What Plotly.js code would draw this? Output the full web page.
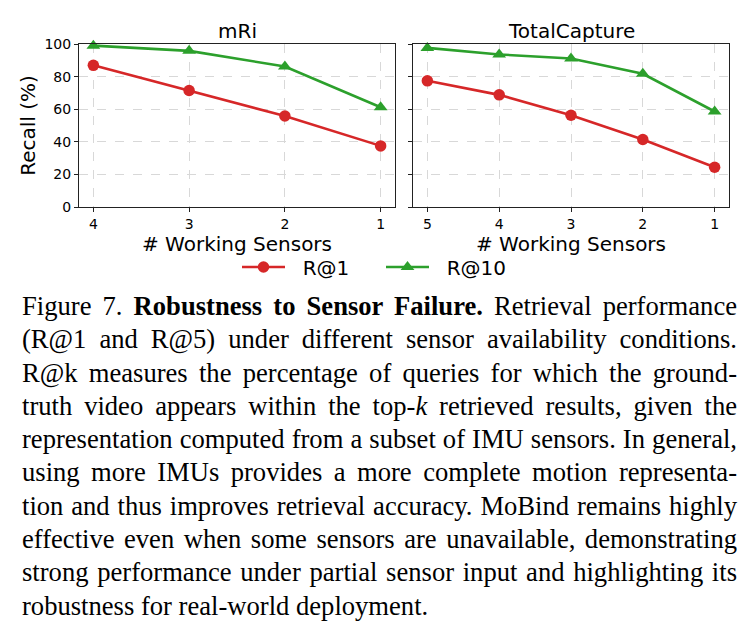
<!DOCTYPE html>
<html>
<head>
<meta charset="utf-8">
<script src="https://cdn.plot.ly/plotly-3.0.1.min.js"></script>
<style>
  html, body { margin: 0; padding: 0; background: #fff; }
  body { width: 749px; height: 637px; position: relative; overflow: hidden; }
  #chart { position: absolute; left: 0; top: 0; width: 749px; height: 290px; }
  #caption { position: absolute; left: 22px; top: 290px; width: 715px;
             font-family: "Liberation Serif", "Times New Roman", serif; font-size: 26.6px;
             color: #000; }
  .cl { height: 33.3px; line-height: 33.3px; white-space: nowrap; }
  .cl span { display: inline-block; transform-origin: 0 50%; }
</style>
</head>
<body>
<div id="chart"></div>
<div id="caption"></div>
<script>
// ---- data ----
const mriSensors = ["4", "3", "2", "1"];
const mriR1 = [86.9, 71.5, 55.8, 37.5];
const mriR10 = [99.0, 95.8, 86.2, 61.2];

const tcSensors = ["5", "4", "3", "2", "1"];
const tcR1 = [77.4, 68.8, 56.3, 41.4, 24.4];
const tcR10 = [97.6, 93.6, 91.1, 81.7, 58.6];

const yTicks = [0, 20, 40, 60, 80, 100];
const subplotTitles = ["mRi", "TotalCapture"];
const xTitle = "# Working Sensors";
const yTitle = "Recall (%)";
const seriesNames = ["R@1", "R@10"];

const captionLines = [
  'Figure 7. <b>Robustness to Sensor Failure.</b> Retrieval performance',
  '(R@1 and R@5) under different sensor availability conditions.',
  'R@k measures the percentage of queries for which the ground-',
  'truth video appears within the top-<i>k</i> retrieved results, given the',
  'representation computed from a subset of IMU sensors. In general,',
  'using more IMUs provides a more complete motion representa-',
  'tion and thus improves retrieval accuracy. MoBind remains highly',
  'effective even when some sensors are unavailable, demonstrating',
  'strong performance under partial sensor input and highlighting its',
  'robustness for real-world deployment.'
];

// ---- styles ----
const RED = "#d62728", GREEN = "#2ca02c";
const FONT = "DejaVu Sans, sans-serif";
const PAD = "\u00a0\u00a0";

function mk(x, y, name, color, symbol, xa, ya, show) {
  return {
    x: x, y: y, name: PAD + name, type: "scatter", mode: "lines+markers",
    xaxis: xa, yaxis: ya, showlegend: show,
    line: { color: color, width: 2.6 },
    marker: { color: color, symbol: symbol, size: symbol === "circle" ? 11.5 : 12 },
    cliponaxis: false
  };
}

const traces = [
  mk(mriSensors, mriR1, seriesNames[0], RED, "circle", "x", "y", true),
  mk(mriSensors, mriR10, seriesNames[1], GREEN, "triangle-up", "x", "y", true),
  mk(tcSensors, tcR1, seriesNames[0], RED, "circle", "x2", "y2", false),
  mk(tcSensors, tcR10, seriesNames[1], GREEN, "triangle-up", "x2", "y2", false)
];

const axisCommon = {
  showline: true, mirror: true, linecolor: "#222", linewidth: 1,
  ticks: "outside", ticklen: 4, tickcolor: "#222", tickwidth: 1,
  showgrid: true, gridcolor: "#d8d8d8", griddash: "dash", gridwidth: 1,
  zeroline: false, tickfont: { family: FONT, size: 14, color: "#000" }
};

const yDom = [1 - 207 / 290, 1 - 44 / 290];
const TFS = 20;

const layout = {
  width: 749, height: 290,
  margin: { l: 0, r: 0, t: 0, b: 0 },
  paper_bgcolor: "#fff", plot_bgcolor: "#fff",
  font: { family: FONT, color: "#000" },
  xaxis: Object.assign({}, axisCommon, {
    domain: [79 / 749, 395 / 749], type: "category", range: [-0.15, 3.15],
    anchor: "y", title: { text: xTitle, font: { family: FONT, size: TFS }, standoff: 0 }
  }),
  yaxis: Object.assign({}, axisCommon, {
    domain: yDom, range: [0, 100], tickvals: yTicks, anchor: "x",
    title: { text: yTitle, font: { family: FONT, size: TFS }, standoff: 3 }
  }),
  xaxis2: Object.assign({}, axisCommon, {
    domain: [413 / 749, 729 / 749], type: "category", range: [-0.2, 4.2],
    anchor: "y2", title: { text: xTitle, font: { family: FONT, size: TFS }, standoff: 0 }
  }),
  yaxis2: Object.assign({}, axisCommon, {
    domain: yDom, range: [0, 100], tickvals: yTicks, anchor: "x2", showticklabels: false
  }),
  annotations: [
    { text: subplotTitles[0], xref: "paper", yref: "paper", x: 237 / 749, y: 1 - 31 / 290,
      xanchor: "center", yanchor: "middle", showarrow: false, font: { family: FONT, size: TFS } },
    { text: subplotTitles[1], xref: "paper", yref: "paper", x: 571 / 749, y: 1 - 31 / 290,
      xanchor: "center", yanchor: "middle", showarrow: false, font: { family: FONT, size: TFS } }
  ],
  showlegend: true,
  legend: {
    orientation: "h", x: 237 / 749, xanchor: "left", y: 1 - 267 / 290, yanchor: "middle",
    font: { family: FONT, size: TFS }, itemwidth: 43, bgcolor: "rgba(0,0,0,0)",
    borderwidth: 0, itemclick: false, itemdoubleclick: false, entrywidth: 86
  }
};

Plotly.newPlot("chart", traces, layout, { displayModeBar: false, staticPlot: true });

// ---- caption (justified lines) ----
const cap = document.getElementById("caption");
const W = 715;
captionLines.forEach(function (html, i) {
  const d = document.createElement("div");
  d.className = "cl";
  const s = document.createElement("span");
  s.innerHTML = html;
  d.appendChild(s);
  cap.appendChild(d);
  const w = s.getBoundingClientRect().width;
  const last = i === captionLines.length - 1;
  if (last) {
    if (w > W) s.style.transform = "scaleX(" + (W / w) + ")";
    return;
  }
  const nSpaces = (s.textContent.match(/ /g) || []).length;
  if (w <= W) {
    s.style.wordSpacing = ((W - w) / nSpaces) + "px";
  } else {
    s.style.transform = "scaleX(" + (W / w) + ")";
  }
});
</script>
</body>
</html>
